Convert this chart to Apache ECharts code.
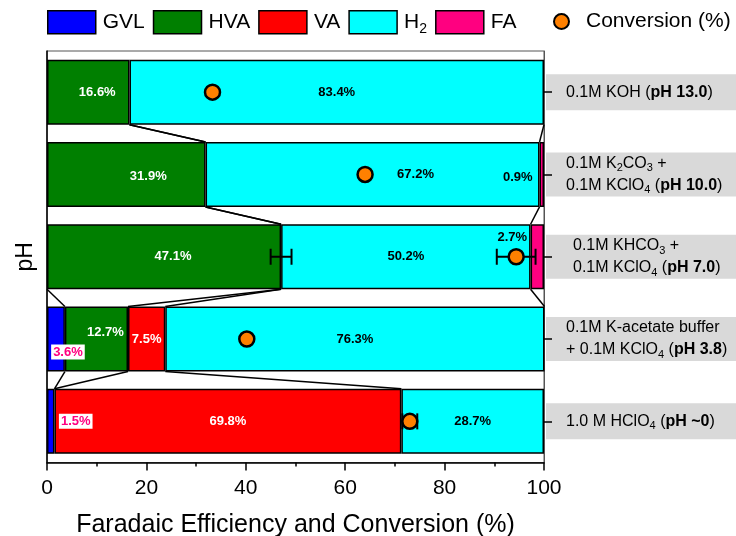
<!DOCTYPE html>
<html>
<head>
<meta charset="utf-8">
<script src="https://cdn.jsdelivr.net/npm/echarts@6/dist/echarts.min.js"></script>
<style>
  html, body { margin: 0; padding: 0; background: #fff; }
  #chart { width: 736px; height: 536px; }
</style>
</head>
<body>
<div id="chart"></div>
<script>
// Electrolyte conditions, top to bottom (rich-text markup for bold pH and subscripts)
const conditions = [
  '0.1M KOH ({b|pH 13.0})',
  '0.1M K{s|2}CO{s|3} +\n0.1M KClO{s|4} ({b|pH 10.0})',
  '0.1M KHCO{s|3} +\n0.1M KClO{s|4} ({b|pH 7.0})',
  '0.1M K-acetate buffer\n+ 0.1M KClO{s|4} ({b|pH 3.8})',
  '1.0 M HClO{s|4} ({b|pH ~0})'
];

// Faradaic efficiencies (%) per product
const gvl = [0, 0, 0, 3.6, 1.5];
const hva = [16.6, 31.9, 47.1, 12.7, 0];
const va  = [0, 0, 0, 7.5, 69.8];
const h2  = [83.4, 67.2, 50.2, 76.3, 28.7];
const fa  = [0, 0.9, 2.7, 0, 0];

// Conversion (%) and error estimates
const conversion    = [33.3, 64.0, 94.4, 40.2, 73.0];
const conversionErr = [0, 0, 3.9, 0, 1.5];
const hvaErr        = [0, 0, 2.1, 0, 0];

const xTicks = { min: 0, max: 100, interval: 20 };

const FONT = '"Liberation Sans", Arial, sans-serif';
const BAR_RATIO = 0.79;

const products = [
  { name: 'GVL', values: gvl, color: '#0000ff', text: '#ff0080' },
  { name: 'HVA', values: hva, color: '#007f00', text: '#ffffff' },
  { name: 'VA',  values: va,  color: '#ff0000', text: '#ffffff' },
  { name: 'H2',  values: h2,  color: '#00ffff', text: '#000000' },
  { name: 'FA',  values: fa,  color: '#ff0080', text: '#000000' }
];

// hand-tuned label nudges (px) for crowded segments
const labelNudge = {
  GVL: { 3: [12, 13], 4: [25, 0] },
  HVA: { 0: [9, 0], 1: [22, 2], 2: [9, 0], 3: [9, -7] },
  H2:  { 1: [43, 0] },
  FA:  { 1: [-24, 3], 2: [-25, -19] }
};

// cumulative right edge of each product segment in each row
const cumEnds = [];
products.forEach((p, k) => {
  cumEnds.push(p.values.map((v, i) => (k ? cumEnds[k - 1][i] : 0) + v));
});

const barSeries = products.map(p => ({
  name: p.name,
  type: 'bar',
  stack: 'fe',
  barWidth: (BAR_RATIO * 100) + '%',
  yAxisIndex: 0,
  z: 2,
  itemStyle: { color: p.color, borderColor: '#000', borderWidth: 1.5 },
  label: {
    show: true,
    position: 'inside',
    color: p.text,
    fontFamily: FONT,
    fontWeight: 'bold',
    fontSize: 13,
    formatter: q => Number(q.value).toFixed(1) + '%',
    ...(p.name === 'GVL' ? { backgroundColor: '#fff', padding: [1, 2] } : {})
  },
  data: p.values.map((v, i) => {
    if (!v) return '-';
    const nudge = (labelNudge[p.name] || {})[i];
    return nudge ? { value: v, label: { offset: nudge } } : v;
  })
}));

// segment-boundary connectors between neighbouring bars
const connectData = [];
for (let i = 0; i < conditions.length - 1; i++) {
  for (let k = 0; k < products.length - 1; k++) {
    const a = cumEnds[k][i], b = cumEnds[k][i + 1];
    if ((a === 0 && b === 0) || (a >= 100 && b >= 100)) continue;
    connectData.push([a, i, b]);
  }
}

const connectSeries = {
  type: 'custom',
  yAxisIndex: 0,
  z: 3,
  silent: true,
  encode: { x: [0, 2], y: 1 },
  data: connectData,
  renderItem: (params, api) => {
    const row = api.value(1);
    const p1 = api.coord([api.value(0), row]);
    const p2 = api.coord([api.value(2), row + 1]);
    const half = api.size([0, 1])[1] * BAR_RATIO / 2;
    return {
      type: 'line',
      shape: { x1: p1[0], y1: p1[1] + half, x2: p2[0], y2: p2[1] - half },
      style: { stroke: '#000', lineWidth: 1.5 }
    };
  }
};

// error bars: [centre, row, half-width]
const errData = [];
hvaErr.forEach((e, i) => { if (e) errData.push([cumEnds[1][i], i, e]); });
conversionErr.forEach((e, i) => { if (e) errData.push([conversion[i], i, e]); });

const errSeries = {
  type: 'custom',
  yAxisIndex: 0,
  z: 4,
  silent: true,
  encode: { x: 0, y: 1 },
  data: errData,
  renderItem: (params, api) => {
    const c = api.value(0), row = api.value(1), e = api.value(2);
    const a = api.coord([c - e, row]);
    const b = api.coord([c + e, row]);
    const cap = 8;
    const st = { stroke: '#000', lineWidth: 2 };
    return {
      type: 'group',
      children: [
        { type: 'line', shape: { x1: a[0], y1: a[1], x2: b[0], y2: b[1] }, style: st },
        { type: 'line', shape: { x1: a[0], y1: a[1] - cap, x2: a[0], y2: a[1] + cap }, style: st },
        { type: 'line', shape: { x1: b[0], y1: b[1] - cap, x2: b[0], y2: b[1] + cap }, style: st }
      ]
    };
  }
};

const conversionSeries = {
  name: 'Conversion (%)',
  type: 'scatter',
  yAxisIndex: 0,
  z: 5,
  symbol: 'circle',
  symbolSize: 15,
  itemStyle: { color: '#ff8000', borderColor: '#000', borderWidth: 2.5, opacity: 1 },
  data: conversion.map((v, i) => [v, i])
};

// per-condition box padding: single-line boxes get vertical padding, row 3 is indented
function conditionItem(c, i) {
  const single = c.indexOf('\n') < 0;
  const left = i === 2 ? 27 : 20;
  return {
    value: c,
    textStyle: { padding: single ? [7, 0, 7, left] : [0, 0, 0, left], width: 190 - left }
  };
}

const chart = echarts.init(document.getElementById('chart'), null, { renderer: 'canvas' });

chart.setOption({
  animation: false,
  backgroundColor: '#fff',
  textStyle: { fontFamily: FONT },
  legend: [
    {
      left: 47, top: 10, padding: 0,
      itemWidth: 48, itemHeight: 23, itemGap: 8,
      icon: 'rect',
      itemStyle: { borderColor: '#000', borderWidth: 1.5 },
      textStyle: {
        fontFamily: FONT, fontSize: 21, color: '#000', padding: [0, 0, 0, 2],
        rich: { s: { fontFamily: FONT, fontSize: 14, color: '#000', padding: [14, 0, 0, 0] } }
      },
      formatter: n => n === 'H2' ? 'H{s|2}' : n,
      data: [
        { name: 'GVL', textStyle: { padding: [0, 6, 0, 2] } },
        'HVA', 'VA', 'H2', 'FA'
      ]
    },
    {
      left: 553, top: 11, padding: 0,
      itemWidth: 15, itemHeight: 15,
      textStyle: { fontFamily: FONT, fontSize: 21, color: '#000', padding: [0, 0, 0, 12] },
      data: ['Conversion (%)']
    }
  ],
  grid: {
    left: 47, right: 192, top: 51, bottom: 73.5,
    outerBoundsMode: 'none',
    containLabel: false,
    show: true, borderColor: '#555', borderWidth: 1, backgroundColor: 'transparent'
  },
  xAxis: {
    type: 'value',
    min: xTicks.min, max: xTicks.max, interval: xTicks.interval,
    name: 'Faradaic Efficiency and Conversion (%)',
    nameLocation: 'middle',
    nameGap: 50,
    nameTextStyle: { fontFamily: FONT, fontSize: 25, color: '#000' },
    axisLine: { show: true, lineStyle: { color: '#000', width: 1.5 } },
    axisTick: { show: true, inside: false, length: 8, lineStyle: { color: '#000', width: 1.5 } },
    minorTick: { show: true, splitNumber: 2, length: 4, lineStyle: { color: '#000', width: 1.5 } },
    axisLabel: { fontFamily: FONT, fontSize: 21, color: '#000', margin: 15 },
    splitLine: { show: false }
  },
  yAxis: [
    {
      type: 'category',
      data: conditions,
      inverse: true,
      position: 'left',
      name: 'pH',
      nameLocation: 'middle',
      nameGap: 10,
      nameRotate: 90,
      nameTextStyle: { fontFamily: FONT, fontSize: 23, color: '#000' },
      axisLine: { show: true, lineStyle: { color: '#000', width: 1.5 } },
      axisTick: { show: false },
      axisLabel: { show: false },
      splitLine: { show: false }
    },
    {
      // condition labels in grey boxes
      type: 'category',
      inverse: true,
      position: 'right',
      z: 0,
      data: conditions.map(conditionItem),
      axisLine: { show: true, lineStyle: { color: '#555', width: 1 } },
      axisTick: { show: false },
      axisLabel: {
        show: true,
        margin: 2,
        align: 'left',
        color: '#000',
        fontFamily: FONT,
        fontSize: 16,
        lineHeight: 22,
        backgroundColor: '#d9d9d9',
        overflow: 'none',
        rich: {
          b: { fontFamily: FONT, fontSize: 16, fontWeight: 'bold', color: '#000', lineHeight: 22 },
          s: { fontFamily: FONT, fontSize: 11, color: '#000', padding: [10, 0, 0, 0] }
        }
      },
      splitLine: { show: false }
    },
    {
      // outward ticks drawn above the label boxes
      type: 'category',
      inverse: true,
      position: 'right',
      z: 3,
      data: conditions,
      axisLine: { show: false },
      axisTick: { show: true, inside: false, alignWithLabel: true, length: 8, lineStyle: { color: '#000', width: 1.5 } },
      axisLabel: { show: false },
      splitLine: { show: false }
    }
  ],
  series: [...barSeries, connectSeries, errSeries, conversionSeries]
});
</script>
</body>
</html>
